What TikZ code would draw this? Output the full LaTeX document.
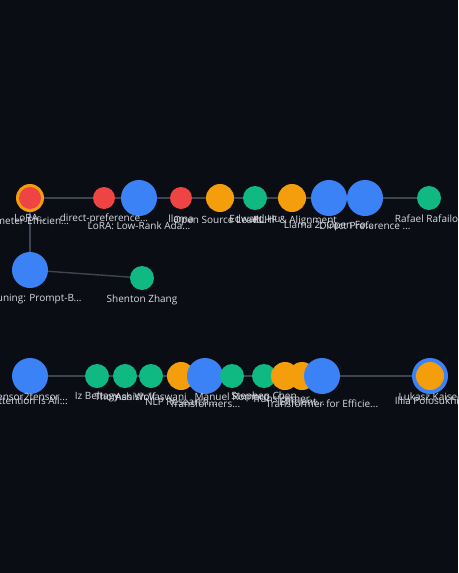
\documentclass[tikz,border=0pt]{standalone}
\usepackage{fontspec}
\setmainfont{Open Sans}
\definecolor{bg}{HTML}{0B0D14}
\definecolor{cred}{HTML}{EF4444}
\definecolor{corange}{HTML}{F59E0B}
\definecolor{cgreen}{HTML}{10B981}
\definecolor{cblue}{HTML}{3B82F6}
\definecolor{cedge}{HTML}{3F4452}
\definecolor{ctext}{HTML}{D8DBE2}
\tikzset{
  dot/.style={circle,inner sep=0pt,draw=none},
  rd/.style={dot,fill=cred,minimum size=22pt},
  ord/.style={dot,fill=corange,minimum size=28pt},
  gr/.style={dot,fill=cgreen,minimum size=24pt},
  bl/.style={dot,fill=cblue,minimum size=36pt},
  lbl/.style={text=ctext,font=\fontsize{10}{12}\selectfont,inner sep=0pt,anchor=center},
  edge/.style={draw=cedge,line width=1.4pt}
}
\begin{document}
\begin{tikzpicture}[x=1pt,y=-1pt]
\fill[bg] (0,0) rectangle (458,573);
\useasboundingbox (0,0) rectangle (458,573);
\begin{scope}
\clip (0,0) rectangle (458,573);
% row 1 nodes
\coordinate (a1) at (30,198);
\coordinate (a2) at (104,198);
\coordinate (a3) at (139,198);
\coordinate (a4) at (181,198);
\coordinate (a5) at (220,198);
\coordinate (a6) at (255,198);
\coordinate (a7) at (292,198);
\coordinate (a8) at (329,198);
\coordinate (a9) at (365,198);
\coordinate (a10) at (429,198);
\coordinate (b1) at (30,270);
\coordinate (b2) at (142,278);
\coordinate (c1) at (30,376);
\coordinate (c2) at (97,376);
\coordinate (c3) at (125,376);
\coordinate (c4) at (151,376);
\coordinate (c5) at (181,376);
\coordinate (c6) at (205,376);
\coordinate (c7) at (232,376);
\coordinate (c8) at (264,376);
\coordinate (c9) at (285,376);
\coordinate (c10) at (302,376);
\coordinate (c11) at (322,376);
\coordinate (c12) at (430,376);
% edges
\draw[edge] (a1) -- (a2) -- (a3) -- (a4) -- (a5) -- (a6) -- (a7) -- (a8) -- (a9) -- (a10);
\draw[edge] (a1) -- (b1);
\draw[edge] (b1) -- (b2);
\draw[edge] (c1) -- (c2) -- (c3) -- (c4) -- (c5) -- (c6) -- (c7) -- (c8) -- (c9) -- (c10) -- (c11) -- (c12);
% nodes row 1
\node[ord] (n1o) at (a1) {};
\node[rd] (n1) at (a1) {};
\node[rd] (n2) at (a2) {};
\node[bl] (n3) at (a3) {};
\node[rd] (n4) at (a4) {};
\node[ord] (n5) at (a5) {};
\node[gr] (n6) at (a6) {};
\node[ord] (n7) at (a7) {};
\node[bl] (n8) at (a8) {};
\node[bl] (n9) at (a9) {};
\node[gr] (n10) at (a10) {};
% row 2
\node[bl] (m1) at (b1) {};
\node[gr] (m2) at (b2) {};
% row 3
\node[bl] (k1) at (c1) {};
\node[gr] (k2) at (c2) {};
\node[gr] (k3) at (c3) {};
\node[gr] (k4) at (c4) {};
\node[ord] (k5) at (c5) {};
\node[bl] (k6) at (c6) {};
\node[gr] (k7) at (c7) {};
\node[gr] (k8) at (c8) {};
\node[ord] (k9) at (c9) {};
\node[ord] (k10) at (c10) {};
\node[bl] (k11) at (c11) {};
\node[bl] (k12o) at (c12) {};
\node[ord] (k12) at (c12) {};
% labels row 1
\node[lbl] (t1o) at (22,221) {Parameter-Efficien...};
\node[lbl] (t1) at (30,218) {LoRA...};
\node[lbl] (t2) at (104,219) {direct-preference...};
\node[lbl] (t3) at (139,226) {LoRA: Low-Rank Ada...};
\node[lbl] (t4) at (181,219) {llama};
\node[lbl] (t5) at (220,221) {Open Source Lead...};
\node[lbl] (t6) at (255,219) {Edward Hu};
\node[lbl] (t7) at (295,221) {RLHF \& Alignment};
\node[lbl] (t8) at (329,226) {Llama 2: Open Fo...};
\node[lbl] (t9) at (365,226) {Direct Preference ...};
\node[lbl] (t10) at (429,219) {Rafael Rafailov};
% labels row 2
\node[lbl] (u1) at (22,299) {Prefix-Tuning: Prompt-B...};
\node[lbl] (u2) at (142,300) {Shenton Zhang};
% labels row 3
\node[lbl] (s1) at (30,397) {Tensor2tensor...};
\node[lbl] (s1b) at (30,401) {Attention Is All...};
\node[lbl] (s2) at (97,397) {Iz Beltagy};
\node[lbl] (s3) at (125,397) {Thomas Wolf};
\node[lbl] (s4) at (151,397) {Ashish Vaswani};
\node[lbl] (s5) at (181,402) {NLP Research...};
\node[lbl] (s6) at (205,404) {Transformers...};
\node[lbl] (s7) at (232,397) {Manuel Romero};
\node[lbl] (s8) at (264,397) {Stephen Chen};
\node[lbl] (s9) at (285,399) {Transformer...};
\node[lbl] (s10) at (302,402) {Efficient...};
\node[lbl] (s11) at (322,404) {Transformer for Efficie...};
\node[lbl] (s12) at (430,397) {Lukasz Kaiser};
\node[lbl] (s12b) at (430,401) {Illia Polosukhin};
\end{scope}
\end{tikzpicture}
\end{document}
